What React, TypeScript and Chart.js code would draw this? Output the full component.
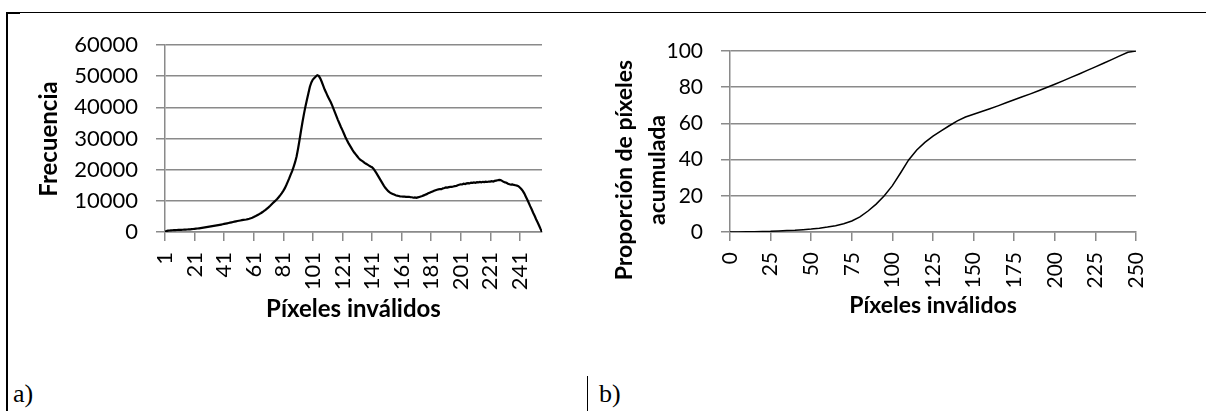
import React, { useEffect, useRef } from "react";
import { Chart, registerables } from "chart.js";

Chart.register(...registerables);

const INK = "#000000";
const GRID = "#8a8a8a";
const SANS = "Lato, 'Open Sans', sans-serif";

// a) histogram of invalid pixels: one count per bin 1..256
const histogramBins: number[] = Array.from({ length: 256 }, (_, i) => i + 1);
const histogramCounts: number[] = [
  100, 300, 420, 480, 520, 560, 590, 610, 640, 660,
  680, 700, 720, 740, 770, 800, 830, 870, 910, 960,
  1010, 1060, 1120, 1180, 1250, 1320, 1390, 1460, 1540, 1620,
  1700, 1780, 1860, 1940, 2020, 2110, 2200, 2290, 2390, 2490,
  2590, 2700, 2790, 2890, 2990, 3090, 3200, 3310, 3420, 3530,
  3620, 3700, 3790, 3870, 3940, 4020, 4120, 4250, 4400, 4580,
  4790, 5020, 5270, 5530, 5800, 6090, 6410, 6750, 7110, 7500,
  7900, 8330, 8800, 9280, 9740, 10200, 10700, 11250, 11850, 12500,
  13200, 14000, 15000, 16100, 17200, 18400, 19500, 20900, 22400, 24200,
  26700, 29500, 32500, 35300, 37900, 40300, 42400, 44500, 46600, 48000,
  48900, 49400, 49900, 50300, 50100, 49300, 48200, 47000, 45700, 44700,
  43600, 42700, 41800, 40700, 39500, 38300, 37100, 35900, 34800, 33700,
  32700, 31600, 30500, 29500, 28600, 27800, 27000, 26200, 25500, 24900,
  24300, 23700, 23200, 22900, 22600, 22200, 21900, 21600, 21300, 21000,
  20800, 20300, 19600, 18900, 18100, 17300, 16500, 15700, 14900, 14200,
  13600, 13100, 12700, 12400, 12200, 12000, 11800, 11650, 11550, 11450,
  11400, 11350, 11350, 11300, 11250, 11300, 11200, 11150, 11000, 11100,
  10950, 11100, 11250, 11400, 11550, 11750, 11950, 12150, 12400, 12600,
  12800, 13000, 13200, 13400, 13550, 13700, 13800, 13750, 14000, 14100,
  14300, 14250, 14400, 14500, 14450, 14600, 14700, 14750, 15000, 15150,
  15300, 15250, 15500, 15400, 15600, 15700, 15600, 15850, 15750, 15900,
  15800, 16000, 15900, 16050, 15950, 16100, 16000, 16150, 16050, 16200,
  16150, 16300, 16200, 16400, 16500, 16600, 16700, 16650, 16400, 16100,
  15900, 15800, 15500, 15300, 15200, 15250, 15100, 15000, 14900, 14700,
  14300, 13800, 13200, 12400, 11400, 10400, 9400, 8300, 7300, 6200,
  5200, 4100, 3100, 2100, 1000, 0,
];
const histogramTicksX: number[] = [1, 21, 41, 61, 81, 101, 121, 141, 161, 181, 201, 221, 241];
const histogramTicksY: number[] = [0, 10000, 20000, 30000, 40000, 50000, 60000];

// b) cumulative share of invalid pixels (%)
const cumulativeX: number[] = [
  0, 5, 10, 15, 20, 25, 30, 35, 40, 45,
  50, 55, 60, 65, 70, 75, 80, 85, 90, 95,
  100, 105, 110, 115, 120, 125, 130, 135, 140, 145,
  150, 155, 160, 165, 170, 175, 180, 185, 190, 195,
  200, 205, 210, 215, 220, 225, 230, 235, 240, 245, 250,
];
const cumulativePercent: number[] = [
  0, 0.05, 0.1, 0.2, 0.3, 0.4, 0.6, 0.8, 1.0, 1.3,
  1.65, 2.1, 2.7, 3.5, 4.6, 6.1, 8.4, 11.6, 15.4, 20.0,
  25.6, 32.6, 39.8, 45.3, 49.5, 53.0, 55.9, 58.7, 61.4, 63.5,
  65.1, 66.6, 68.1, 69.7, 71.4, 73.1, 74.7, 76.3, 78.0, 79.8,
  81.6, 83.5, 85.4, 87.3, 89.3, 91.2, 93.2, 95.2, 97.3, 99.3, 100,
];
const cumulativeTicksX: number[] = [0, 25, 50, 75, 100, 125, 150, 175, 200, 225, 250];
const cumulativeTicksY: number[] = [0, 20, 40, 60, 80, 100];

// Draws the bold axis captions (x centred under the plot, y rotated, possibly two lines)
const axisCaptions = {
  id: "axisCaptions",
  afterDraw(chart: any, _args: any, opts: any) {
    const { ctx, chartArea } = chart;
    ctx.save();
    ctx.fillStyle = INK;
    ctx.font = `bold ${opts.size}px ${SANS}`;
    ctx.textAlign = "center";
    ctx.textBaseline = "alphabetic";
    ctx.fillText(opts.xTitle, (chartArea.left + chartArea.right) / 2, chartArea.bottom + opts.xGap);
    ctx.translate(opts.yCenterX, opts.yCenterY);
    ctx.rotate(-Math.PI / 2);
    ctx.textBaseline = "middle";
    const lines: string[] = opts.yTitle;
    lines.forEach((line, i) => {
      ctx.fillText(line, 0, (i - (lines.length - 1) / 2) * opts.lineGap);
    });
    ctx.restore();
  },
};

type PanelSpec = {
  xs: number[];
  ys: number[];
  xMin: number;
  xMax: number;
  yMax: number;
  ticksX: number[];
  ticksY: number[];
  lineWidth: number;
  tickSize: number;
  axisWidth: number;
  padTop: number;
  padRight: number;
  captions: any;
};

function buildConfig(p: PanelSpec): any {
  const tickFont = { family: SANS, size: p.tickSize, weight: "normal" as const };
  return {
    type: "line",
    data: {
      datasets: [
        {
          data: p.xs.map((x, i) => ({ x, y: p.ys[i] })),
          borderColor: INK,
          borderWidth: p.lineWidth,
          pointRadius: 0,
          tension: 0,
          fill: false,
        },
      ],
    },
    options: {
      animation: false,
      responsive: true,
      maintainAspectRatio: false,
      layout: { padding: { top: p.padTop, right: p.padRight, bottom: 0, left: 0 } },
      plugins: {
        legend: { display: false },
        tooltip: { enabled: false },
        axisCaptions: p.captions,
      },
      scales: {
        x: {
          type: "linear",
          min: p.xMin,
          max: p.xMax,
          afterBuildTicks: (s: any) => {
            s.ticks = p.ticksX.map((v) => ({ value: v }));
          },
          afterFit: (s: any) => {
            s.height = 138;
          },
          grid: { drawOnChartArea: false, drawTicks: true, tickLength: 9, color: GRID, lineWidth: 1.5 },
          border: { display: true, color: GRID, width: 1.5 },
          ticks: {
            autoSkip: false,
            maxRotation: 90,
            minRotation: 90,
            padding: 11,
            color: INK,
            font: tickFont,
            callback: (v: any) => String(v),
          },
        },
        y: {
          type: "linear",
          min: 0,
          max: p.yMax,
          afterBuildTicks: (s: any) => {
            s.ticks = p.ticksY.map((v) => ({ value: v }));
          },
          afterFit: (s: any) => {
            s.width = p.axisWidth;
          },
          grid: { color: GRID, lineWidth: 1.5, tickLength: 9, drawTicks: true },
          border: { display: true, color: GRID, width: 1.5 },
          ticks: { padding: 18, color: INK, font: tickFont, callback: (v: any) => String(v) },
        },
      },
    },
    plugins: [axisCaptions],
  };
}

function Panel({ spec, left, width }: { spec: PanelSpec; left: number; width: number }) {
  const ref = useRef<HTMLCanvasElement | null>(null);
  useEffect(() => {
    if (!ref.current) return;
    const chart = new Chart(ref.current, buildConfig(spec));
    return () => chart.destroy();
  }, [spec]);
  return (
    <div style={{ position: "absolute", left, top: 0, width, height: 370 }}>
      <canvas ref={ref} />
    </div>
  );
}

const histogramPanel: PanelSpec = {
  xs: histogramBins,
  ys: histogramCounts,
  xMin: 1,
  xMax: 256,
  yMax: 60000,
  ticksX: histogramTicksX,
  ticksY: histogramTicksY,
  lineWidth: 2.2,
  tickSize: 22,
  axisWidth: 165,
  padTop: 45,
  padRight: 46,
  captions: {
    size: 24,
    xTitle: "Píxeles inválidos",
    xGap: 85,
    yTitle: ["Frecuencia"],
    yCenterX: 49,
    yCenterY: 139,
    lineGap: 33,
  },
};

const cumulativePanel: PanelSpec = {
  xs: cumulativeX,
  ys: cumulativePercent,
  xMin: 0,
  xMax: 250,
  yMax: 100,
  ticksX: cumulativeTicksX,
  ticksY: cumulativeTicksY,
  lineWidth: 1.5,
  tickSize: 21,
  axisWidth: 142,
  padTop: 51,
  padRight: 70,
  captions: {
    size: 23,
    xTitle: "Píxeles inválidos",
    xGap: 81,
    yTitle: ["Proporción de píxeles", "acumulada"],
    yCenterX: 53,
    yCenterY: 170,
    lineGap: 33,
  },
};

const serif = "'Liberation Serif', 'Times New Roman', serif";

export default function App() {
  return (
    <div style={{ position: "absolute", left: 0, top: 0, width: 1206, height: 411, background: "#fff", overflow: "hidden" }}>
      <div style={{ position: "absolute", left: 6, top: 12, width: 1200, height: 1, background: "#000" }} />
      <div style={{ position: "absolute", left: 6, top: 12, width: 14, height: 2, background: "#000" }} />
      <div style={{ position: "absolute", left: 6, top: 12, width: 2, height: 399, background: "#000" }} />
      <div style={{ position: "absolute", left: 587, top: 376, width: 1, height: 35, background: "#000" }} />
      <Panel spec={histogramPanel} left={0} width={588} />
      <Panel spec={cumulativePanel} left={588} width={618} />
      <div style={{ position: "absolute", left: 13, top: 381, fontFamily: serif, fontSize: 26, lineHeight: "26px", color: "#000" }}>
        a)
      </div>
      <div style={{ position: "absolute", left: 599, top: 381, fontFamily: serif, fontSize: 26, lineHeight: "26px", color: "#000" }}>
        b)
      </div>
    </div>
  );
}
